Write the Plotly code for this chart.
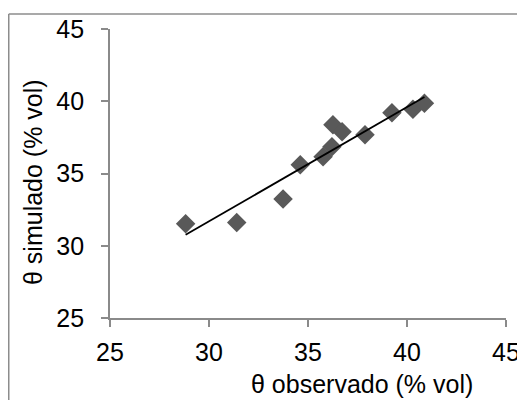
import plotly.graph_objects as go

# Data
theta_obs = [28.82, 31.40, 33.74, 34.61, 35.76, 36.21, 36.26, 36.72, 37.88, 39.24, 40.30, 40.88]
theta_sim = [31.52, 31.61, 33.23, 35.60, 36.16, 36.85, 38.37, 37.89, 37.68, 39.21, 39.45, 39.86]
trend_x = [28.82, 40.88]
trend_y = [30.76, 40.29]
x_ticks = [25, 30, 35, 40, 45]
y_ticks = [25, 30, 35, 40, 45]
x_title = "θ observado (% vol)"
y_title = "θ simulado (% vol)"

FONT = "Arial, 'Liberation Sans', sans-serif"
AXIS_COLOR = "#8a8a8a"
FS = 25

fig = go.Figure()
fig.add_trace(go.Scatter(
    x=theta_obs, y=theta_sim, mode="markers",
    marker=dict(symbol="diamond", size=15, color="#595959", line=dict(width=0)),
    showlegend=False,
))
fig.add_trace(go.Scatter(
    x=trend_x, y=trend_y, mode="lines",
    line=dict(color="black", width=1.8),
    showlegend=False,
))

axis_common = dict(
    showgrid=False, zeroline=False, showline=True, linecolor=AXIS_COLOR, linewidth=1.75,
    ticks="outside", ticklen=7, tickcolor=AXIS_COLOR, tickwidth=1.5,
    tickfont=dict(family=FONT, size=FS, color="black"),
)
fig.update_xaxes(range=[25, 45], tickvals=x_ticks, ticktext=[str(v) for v in x_ticks],
                 ticklabelstandoff=4, **axis_common)
fig.update_yaxes(range=[25, 45], tickvals=y_ticks, ticktext=[str(v) for v in y_ticks],
                 ticklabelstandoff=12, **axis_common)

# page offset: the browser body has an 8px margin
OFF = 8
W, H = 525, 400
PL, PR, PT, PB = 110, 506, 29, 318   # plot area in page pixels
L, T = PL - OFF, PT - OFF
pw, ph = PR - PL, PB - PT
R = W - L - pw
B = H - T - ph

def px_to_paper(px, py):
    # px, py given in page pixels
    fx, fy = px - OFF, py - OFF
    return (fx - L) / pw, (T + ph - fy) / ph

bx0, by0 = px_to_paper(8.75, 14)
bx1, by1 = px_to_paper(560, 440)
border = dict(color="#8c8c8c", width=1.5)
fig.add_shape(type="line", xref="paper", yref="paper", x0=bx0, x1=bx0, y0=by0, y1=by1,
              line=border, layer="above")
fig.add_shape(type="line", xref="paper", yref="paper", x0=bx0, x1=bx1, y0=by0, y1=by0,
              line=border, layer="above")

ax, ay = px_to_paper(362, 384)
fig.add_annotation(text=x_title, xref="paper", yref="paper", x=ax, y=ay, showarrow=False,
                   xanchor="center", yanchor="middle", font=dict(family=FONT, size=FS, color="black"))
tx, ty = px_to_paper(33, 182)
fig.add_annotation(text=y_title, xref="paper", yref="paper", x=tx, y=ty, showarrow=False,
                   textangle=-90, xanchor="center", yanchor="middle",
                   font=dict(family=FONT, size=FS, color="black"))

fig.update_layout(
    width=W, height=H, margin=dict(l=L, r=R, t=T, b=B, autoexpand=False),
    plot_bgcolor="white", paper_bgcolor="white",
)

fig.write_html("out.html")
